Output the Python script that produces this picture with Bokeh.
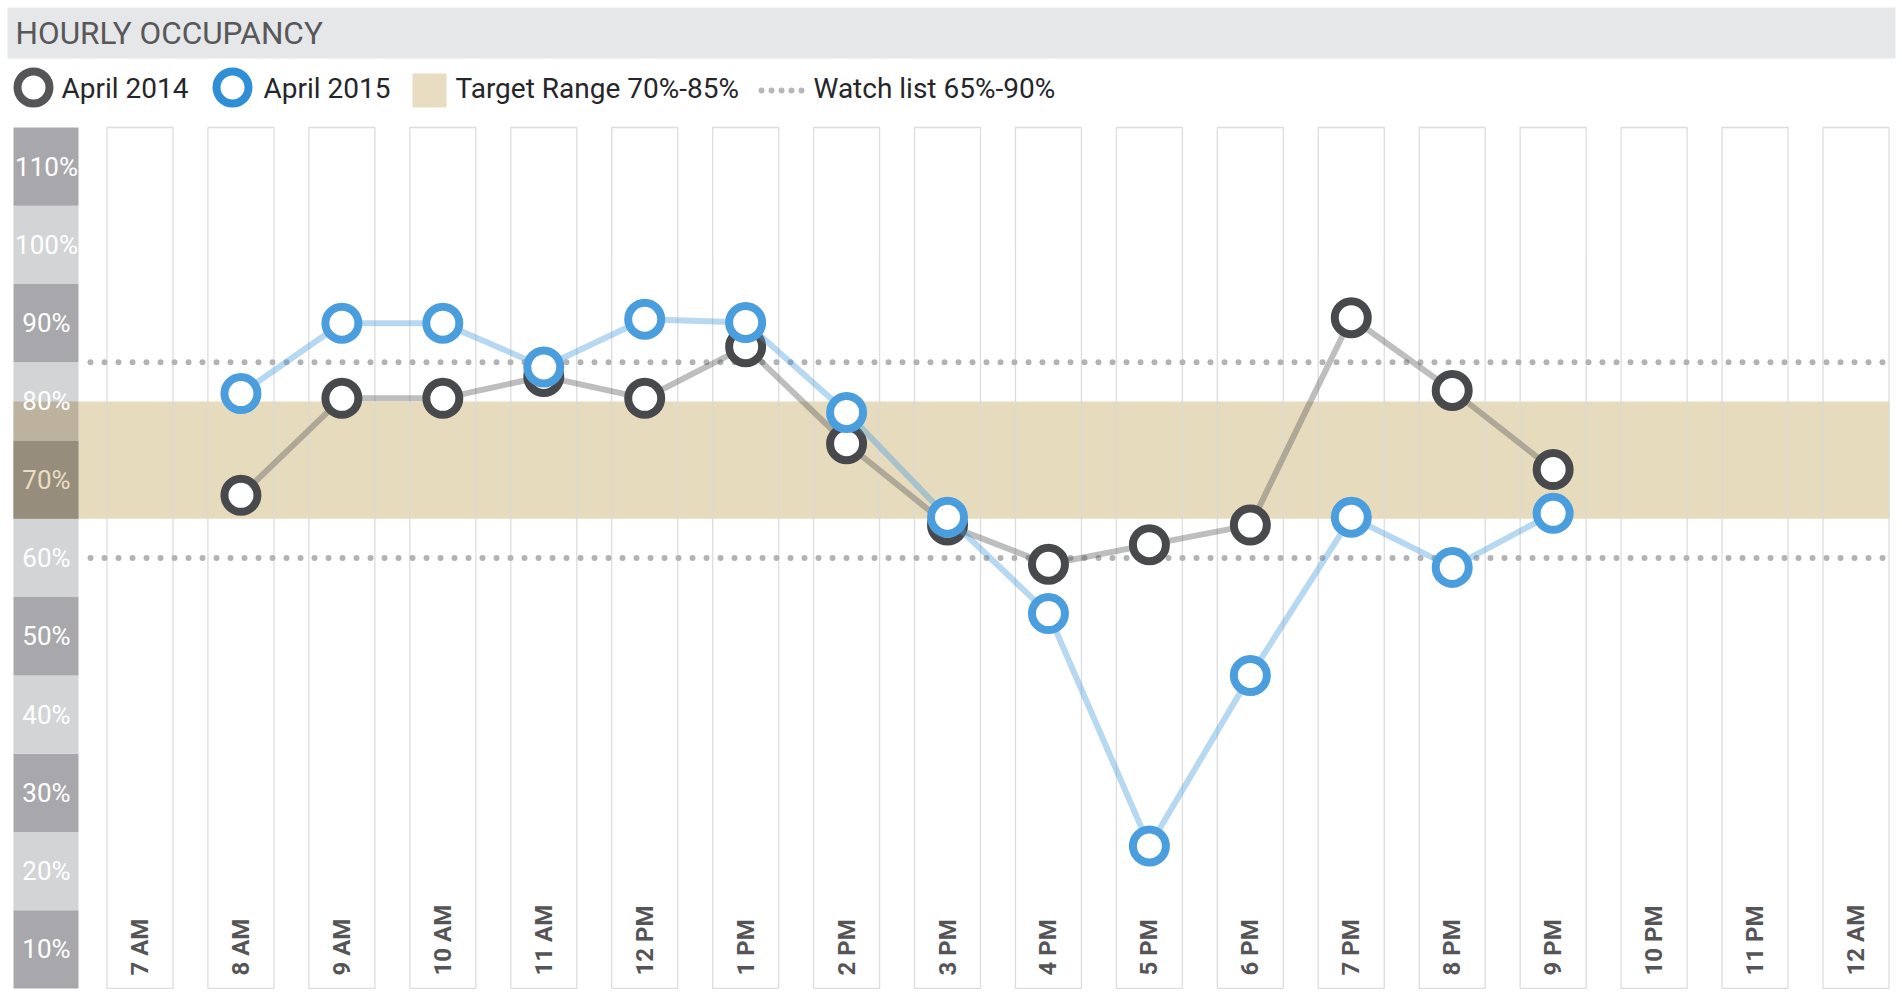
import math
from bokeh.plotting import figure
from bokeh.models import Range1d, Label
from bokeh.core.properties import value
from bokeh.embed import file_html
from bokeh.resources import INLINE

# ---------------- data ----------------
hours = ["7 AM", "8 AM", "9 AM", "10 AM", "11 AM", "12 PM", "1 PM", "2 PM", "3 PM",
         "4 PM", "5 PM", "6 PM", "7 PM", "8 PM", "9 PM", "10 PM", "11 PM", "12 AM"]
data_hours = ["8 AM", "9 AM", "10 AM", "11 AM", "12 PM", "1 PM", "2 PM", "3 PM",
              "4 PM", "5 PM", "6 PM", "7 PM", "8 PM", "9 PM"]
april_2014 = [73, 85.4, 85.4, 88.2, 85.4, 92, 79.6, 69.2, 64.2, 66.7, 69.2, 95.7, 86.4, 76.3]
april_2015 = [86, 95, 95, 89.4, 95.5, 95.1, 83.6, 70.2, 57.9, 28.2, 50, 70.2, 63.8, 70.7]
y_tick_values = [10, 20, 30, 40, 50, 60, 70, 80, 90, 100, 110]
y_tick_labels = ["10%", "20%", "30%", "40%", "50%", "60%", "70%", "80%", "90%", "100%", "110%"]
target_range = (70, 85)
watch_range = (65, 90)
legend_labels = ["April 2014", "April 2015", "Target Range 70%-85%", "Watch list 65%-90%"]
title_text = "HOURLY OCCUPANCY"

# ---------------- layout helpers (page pixel -> data) ----------------
W, H = 1900, 995
C0, PITCH = 139.5, 100.94      # page x of first column centre, column pitch
Y120, PPU = 127.0, 7.827       # page y of 120%, pixels per 1%


def px(xp):
    return (xp - C0) / PITCH


def py(yp):
    return 120 - (yp - Y120) / PPU


xi = {h: i for i, h in enumerate(hours)}

p = figure(width=W, height=H, output_backend="svg", toolbar_location=None,
           x_range=Range1d(px(0), px(W)), y_range=Range1d(py(H), py(0)),
           x_axis_type=None, y_axis_type=None, min_border=0, tools="")
p.outline_line_color = None
p.grid.visible = False
p.background_fill_color = "white"
p.border_fill_color = "white"

# header bar
p.quad(left=[px(7)], right=[px(1895)], top=[py(7)], bottom=[py(58)],
       fill_color="#e6e7e8", line_color=None)
p.add_layout(Label(x=px(15), y=py(33), text=title_text, text_font="Roboto",
                   text_font_size="31.5px", text_color="#58585b", text_baseline="middle"))

# y band (alternating boxes)
band_left, band_right = px(13), px(78)
dark_band, light_band = "#a8a8ac", "#d3d4d6"
band_cols = [dark_band if (i % 2 == 0) else light_band for i in range(len(y_tick_values))]
p.quad(left=band_left, right=band_right, bottom=y_tick_values,
       top=[v + 10 for v in y_tick_values], fill_color=band_cols, line_color=None)

# target range band
tan = "#e7dbbe"
p.quad(left=[band_right], right=[px(1889)], bottom=[target_range[0]], top=[target_range[1]],
       fill_color=tan, line_color=None)
# tinted y band parts under the target range (multiply look)
tint_b, tint_t, tint_c = [], [], []
for v, c in zip(y_tick_values, band_cols):
    lo, hi = max(v, target_range[0]), min(v + 10, target_range[1])
    if hi > lo:
        tint_b.append(lo)
        tint_t.append(hi)
        tint_c.append("#978d7c" if c == dark_band else "#bdb29d")
p.quad(left=band_left, right=band_right, bottom=tint_b, top=tint_t,
       fill_color=tint_c, line_color=None)

# y labels
ylab_colors = ["#e9dec3" if target_range[0] <= v < target_range[1] - 5 else "white"
               for v in y_tick_values]
p.text(x=px(46), y=[v + 5 for v in y_tick_values], text=y_tick_labels,
       text_font=value("Roboto"), text_font_size=value("26px"),
       text_color=ylab_colors, text_align="center", text_baseline="middle")

# columns
half = 0.327
p.quad(left=[i - half for i in range(len(hours))], right=[i + half for i in range(len(hours))],
       bottom=10, top=120, fill_color=None, line_color="#d9d9d9", line_width=1.3, line_alpha=0.9)

# watch list lines
for wv in watch_range:
    p.line(x=[px(90), px(1889)], y=[wv, wv], line_color="#b3b3b5", line_width=6,
           line_dash="0 14", line_cap="round")

# x labels
p.text(x=list(range(len(hours))), y=py(975), text=hours, angle=math.pi / 2,
       text_font=value("Roboto"), text_font_style="bold", text_font_size=value("24px"),
       text_color="#555558", text_align="left", text_baseline="middle")

# series
xs = [xi[h] for h in data_hours]
dark, blue = "#48494c", "#4b9edd"
p.line(xs, april_2014, line_color="#555555", line_alpha=0.38, line_width=6, line_join="round")
p.scatter(xs, april_2014, size=33, fill_color="white", line_color=dark, line_width=8)
p.line(xs, april_2015, line_color=blue, line_alpha=0.4, line_width=6, line_join="round")
p.scatter(xs, april_2015, size=33, fill_color="white", line_color=blue, line_width=8)

# legend (drawn)
ly = py(87)
p.scatter([px(33)], [ly], size=32, fill_color="white", line_color="#555557", line_width=8)
p.scatter([px(232)], [ly], size=32, fill_color="white", line_color="#2f8fd6", line_width=8)
p.quad(left=[px(412)], right=[px(446)], top=[py(73)], bottom=[py(107)],
       fill_color="#e9ddc1", line_color=None)
p.line(x=[px(761), px(803)], y=[py(90)] * 2, line_color="#b7b7b9", line_width=6,
       line_dash="0 10", line_cap="round")
p.text(x=[px(61), px(263), px(455), px(813)], y=py(88), text=legend_labels,
       text_font=value("Roboto"), text_font_size=value("28px"), text_color="#26262a",
       text_align="left", text_baseline="middle")

open("out.html", "w").write(file_html(p, INLINE))
